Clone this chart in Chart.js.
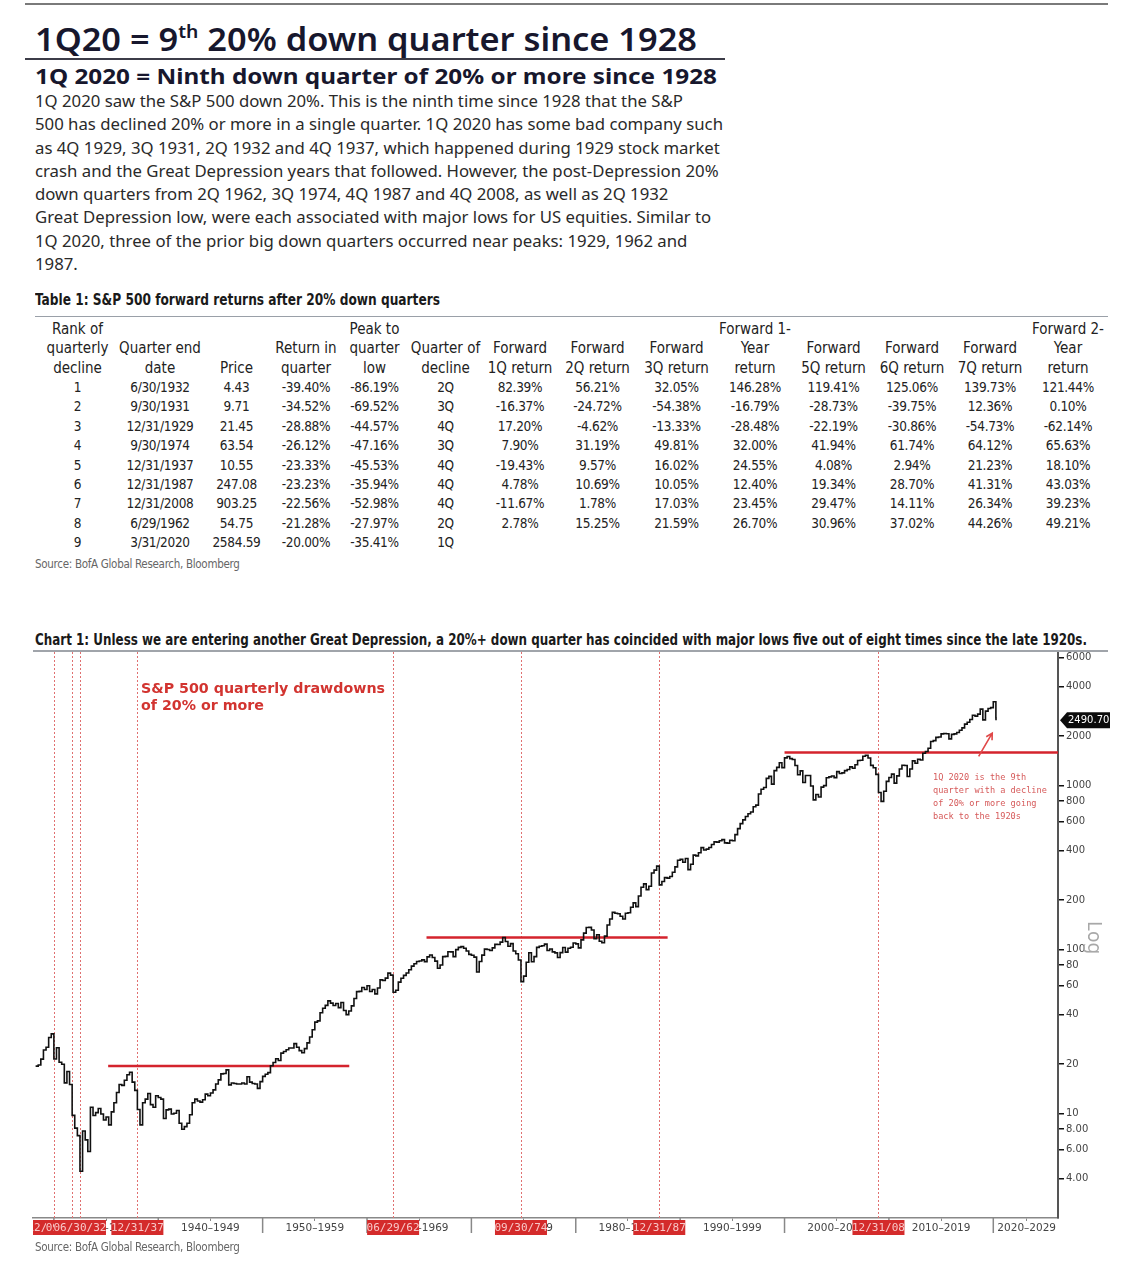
<!DOCTYPE html>
<html>
<head>
<meta charset="utf-8">
<script src="https://cdn.jsdelivr.net/npm/chart.js@4.4.1/dist/chart.umd.min.js"></script>
<style>
  body { margin: 0; background: #fff; width: 1140px; height: 1280px; position: relative; overflow: hidden; font-family: "Noto Sans", sans-serif; }
  .abs { position: absolute; white-space: nowrap; }
  .narrow { font-family: "Liberation Sans Narrow", "DejaVu Sans Condensed", sans-serif; }
  #topline { left: 25px; top: 3px; width: 1083px; height: 2px; background: #7a7a7a; }
  #title { left: 35px; top: 17px; font-size: 32px; font-weight: 600; color: #17172d; }
  #title sup { font-size: 18px; vertical-align: 13px; line-height: 0; }
  #titleline { left: 25px; top: 58px; width: 700px; height: 2px; background: #3c3c48; }
  #subtitle { left: 35px; top: 60px; font-size: 22px; font-weight: 700; color: #17172d; }
  #para { left: 35px; top: 89px; font-size: 17px; line-height: 23.3px; color: #2a2a2a; }
  #t1title { left: 35px; top: 291px; font-size: 15px; font-weight: 700; color: #1a1a1a; }
  #t1line { left: 35px; top: 316px; width: 1073px; height: 1px; background: #9aa0a8; }
  #tbl { position: absolute; left: 36px; top: 320px; border-collapse: collapse; table-layout: fixed; color: #222; }
  #tbl td { padding: 0; text-align: center; white-space: nowrap; }
  #tbl tr.hd td { font-size: 15px; line-height: 19.3px; vertical-align: bottom; }
  #tbl tr.rw td { font-size: 13.5px; line-height: 19.4px; height: 19.4px; letter-spacing: -0.3px; }
  .src { font-size: 11.5px; color: #666; letter-spacing: -0.3px; }
  #c1title { left: 35px; top: 631px; font-size: 15px; font-weight: 700; color: #1a1a1a; }
  #c1line { left: 33px; top: 650px; width: 1075px; height: 2px; background: #a0a4aa; }
  #chartBox { position: absolute; left: 0; top: 652px; width: 1140px; height: 593px; }
  #note1 { left: 141px; top: 680px; font-family: "DejaVu Sans", sans-serif; font-size: 13.5px; font-weight: 700; line-height: 17px; color: #d23430; }
  #note2 { left: 933px; top: 771px; font-family: "DejaVu Sans Mono", monospace; font-size: 8.6px; line-height: 13px; color: #d65a5a; }
  #logtxt { left: 1108px; top: 921px; font-size: 19px; color: #a8a8a8; transform: rotate(90deg); transform-origin: left top; }
</style>
</head>
<body>
<div class="abs" id="topline"></div>
<div class="abs" id="title">1Q20 = 9<sup>th</sup> 20% down quarter since 1928</div>
<div class="abs" id="titleline"></div>
<div class="abs" id="subtitle">1Q 2020 = Ninth down quarter of 20% or more since 1928</div>
<div class="abs" id="para">1Q 2020 saw the S&amp;P 500 down 20%. This is the ninth time since 1928 that the S&amp;P<br>500 has declined 20% or more in a single quarter. 1Q 2020 has some bad company such<br>as 4Q 1929, 3Q 1931, 2Q 1932 and 4Q 1937, which happened during 1929 stock market<br>crash and the Great Depression years that followed. However, the post-Depression 20%<br>down quarters from 2Q 1962, 3Q 1974, 4Q 1987 and 4Q 2008, as well as 2Q 1932<br>Great Depression low, were each associated with major lows for US equities. Similar to<br>1Q 2020, three of the prior big down quarters occurred near peaks: 1929, 1962 and<br>1987.</div>

<div class="abs narrow" id="t1title">Table 1: S&amp;P 500 forward returns after 20% down quarters</div>
<div class="abs" id="t1line"></div>
<table id="tbl" class="narrow"></table>
<div class="abs narrow src" style="left:35px;top:557px">Source: BofA Global Research, Bloomberg</div>

<div class="abs narrow" id="c1title">Chart 1: Unless we are entering another Great Depression, a 20%+ down quarter has coincided with major lows five out of eight times since the late 1920s.</div>
<div class="abs" id="c1line"></div>
<div id="chartBox"><canvas id="chart"></canvas></div>
<div class="abs" id="note1">S&amp;P 500 quarterly drawdowns<br>of 20% or more</div>
<div class="abs" id="note2">1Q 2020 is the 9th<br>quarter with a decline<br>of 20% or more going<br>back to the 1920s</div>
<div class="abs" id="logtxt">Log</div>
<div class="abs narrow src" style="left:35px;top:1240px">Source: BofA Global Research, Bloomberg</div>

<script>
// squeeze/stretch a text block horizontally to the width it has in the original
function fitWidth(id, w) {
  const el = document.getElementById(id);
  const nat = el.getBoundingClientRect().width;
  el.style.transformOrigin = 'left top';
  el.style.transform = 'scaleX(' + (w / nat) + ')';
}
fitWidth('title', 662);
fitWidth('subtitle', 682);
fitWidth('para', 688);
fitWidth('t1title', 405);
fitWidth('c1title', 1052);
fitWidth('note1', 244);

// Table 1
const tableHead = ['Rank of<br>quarterly<br>decline', 'Quarter end<br>date', 'Price', 'Return in<br>quarter',
  'Peak to<br>quarter<br>low', 'Quarter of<br>decline', 'Forward<br>1Q return', 'Forward<br>2Q return',
  'Forward<br>3Q return', 'Forward 1-<br>Year<br>return', 'Forward<br>5Q return', 'Forward<br>6Q return',
  'Forward<br>7Q return', 'Forward 2-<br>Year<br>return'];
const colWidths = [83, 82, 71, 68, 69, 73, 76, 79, 79, 78, 79, 78, 78, 78];
const tableRows = [
  ['1', '6/30/1932', '4.43', '-39.40%', '-86.19%', '2Q', '82.39%', '56.21%', '32.05%', '146.28%', '119.41%', '125.06%', '139.73%', '121.44%'],
  ['2', '9/30/1931', '9.71', '-34.52%', '-69.52%', '3Q', '-16.37%', '-24.72%', '-54.38%', '-16.79%', '-28.73%', '-39.75%', '12.36%', '0.10%'],
  ['3', '12/31/1929', '21.45', '-28.88%', '-44.57%', '4Q', '17.20%', '-4.62%', '-13.33%', '-28.48%', '-22.19%', '-30.86%', '-54.73%', '-62.14%'],
  ['4', '9/30/1974', '63.54', '-26.12%', '-47.16%', '3Q', '7.90%', '31.19%', '49.81%', '32.00%', '41.94%', '61.74%', '64.12%', '65.63%'],
  ['5', '12/31/1937', '10.55', '-23.33%', '-45.53%', '4Q', '-19.43%', '9.57%', '16.02%', '24.55%', '4.08%', '2.94%', '21.23%', '18.10%'],
  ['6', '12/31/1987', '247.08', '-23.23%', '-35.94%', '4Q', '4.78%', '10.69%', '10.05%', '12.40%', '19.34%', '28.70%', '41.31%', '43.03%'],
  ['7', '12/31/2008', '903.25', '-22.56%', '-52.98%', '4Q', '-11.67%', '1.78%', '17.03%', '23.45%', '29.47%', '14.11%', '26.34%', '39.23%'],
  ['8', '6/29/1962', '54.75', '-21.28%', '-27.97%', '2Q', '2.78%', '15.25%', '21.59%', '26.70%', '30.96%', '37.02%', '44.26%', '49.21%'],
  ['9', '3/31/2020', '2584.59', '-20.00%', '-35.41%', '1Q', '', '', '', '', '', '', '', '']
];
const tbl = document.getElementById('tbl');
let html = '<colgroup>' + colWidths.map(w => '<col style="width:' + w + 'px">').join('') + '</colgroup>';
html += '<tr class="hd">' + tableHead.map(h => '<td>' + h + '</td>').join('') + '</tr>';
tableRows.forEach(r => { html += '<tr class="rw">' + r.map(v => '<td>' + v + '</td>').join('') + '</tr>'; });
tbl.innerHTML = html;

// Chart 1 data: S&P 500 quarter-end closes, 1928 Q1 .. 2020 Q1
const startYear = 1928;
const closes = [
  19.4, 19.7, 21.4, 24.35,     25.3, 29.0, 30.5, 21.45,     25.1, 20.5, 19.9, 15.34,
  18.0, 15.0, 9.71, 8.12,      7.31, 4.43, 7.8, 6.89,       5.85, 10.9, 9.7, 10.1,
  10.7, 9.9, 9.1, 9.5,         8.5, 10.2, 11.6, 13.4,       15.0, 14.8, 15.9, 17.2,
  17.8, 15.5, 13.8, 10.55,     8.5, 11.6, 12.2, 13.2,       11.3, 10.9, 12.8, 12.5,
  12.2, 9.3, 10.5, 10.6,       9.9, 10.0, 10.4, 8.7,        8.0, 8.3, 8.7, 9.8,
  11.6, 12.2, 11.9, 11.7,      12.1, 13.1, 12.8, 13.3,      13.9, 15.1, 16.0, 17.4,
  17.5, 18.4, 14.9, 15.3,      15.2, 15.1, 15.1, 15.3,      15.1, 16.7, 15.5, 15.2,
  15.1, 14.2, 15.6, 16.8,      17.3, 17.7, 19.5, 20.4,      21.5, 21.0, 23.3, 23.8,
  24.4, 25.0, 25.0, 26.6,      25.3, 24.1, 23.4, 24.8,      26.9, 29.2, 32.3, 36.0,
  36.6, 41.0, 43.7, 45.5,      48.5, 47.0, 45.4, 46.7,      44.1, 47.4, 42.4, 40.0,
  42.1, 45.2, 50.1, 55.2,      55.4, 58.5, 56.9, 59.9,      55.3, 56.9, 53.5, 58.1,
  65.1, 64.6, 66.7, 71.6,      69.6, 54.75, 56.3, 63.1,     66.6, 69.4, 71.7, 75.0,
  79.0, 81.7, 84.2, 84.8,      86.2, 84.1, 90.0, 92.4,      89.2, 84.7, 76.6, 80.3,
  90.2, 90.6, 96.7, 96.5,      90.2, 99.6, 102.7, 103.9,    101.5, 97.7, 93.1, 92.1,
  89.6, 72.7, 84.3, 92.2,      100.3, 99.7, 98.3, 102.1,    107.2, 107.1, 110.6, 118.1,
  111.5, 104.3, 108.4, 97.6,   94.0, 86.0, 63.54, 68.6,     83.4, 95.2, 83.9, 90.2,
  102.8, 104.3, 105.2, 107.5,  98.4, 100.5, 96.5, 95.1,     89.2, 95.5, 102.5, 96.1,
  101.6, 102.9, 109.3, 107.9,  102.1, 114.2, 125.5, 135.8,  136.0, 131.2, 116.2, 122.6,
  112.0, 109.6, 120.4, 140.6,  153.0, 168.1, 166.1, 164.9,  159.2, 153.2, 166.1, 167.2,
  180.7, 191.9, 182.1, 211.3,  238.9, 250.8, 231.3, 242.2,  291.7, 304.0, 321.8, 247.08,
  258.9, 273.5, 271.9, 277.7,  294.9, 318.0, 349.2, 353.4,  339.9, 358.0, 306.1, 330.2,
  375.2, 371.2, 387.9, 417.1,  403.7, 408.1, 417.8, 435.7,  451.7, 450.5, 458.9, 466.5,
  445.8, 444.3, 462.7, 459.3,  500.7, 544.8, 584.4, 615.9,  645.5, 670.6, 687.3, 740.7,
  757.1, 885.1, 947.3, 970.4,  1101.8, 1133.8, 1017.0, 1229.2, 1286.4, 1372.7, 1282.7, 1469.3,
  1498.6, 1454.6, 1436.5, 1320.3, 1160.3, 1224.4, 1040.9, 1148.1, 1147.4, 989.8, 815.3, 879.8,
  848.2, 974.5, 996.0, 1111.9, 1126.2, 1140.8, 1114.6, 1211.9, 1180.6, 1191.3, 1228.8, 1248.3,
  1294.8, 1270.2, 1335.9, 1418.3, 1420.9, 1503.4, 1526.8, 1468.4, 1322.7, 1280.0, 1166.4, 903.25,
  797.9, 919.3, 1057.1, 1115.1, 1169.4, 1030.7, 1141.2, 1257.6, 1325.8, 1320.6, 1131.4, 1257.6,
  1408.5, 1362.2, 1440.7, 1426.2, 1569.2, 1606.3, 1681.6, 1848.4, 1872.3, 1960.2, 1972.3, 2058.9,
  2067.9, 2063.1, 1920.0, 2043.9, 2059.7, 2098.9, 2168.3, 2238.8, 2362.7, 2423.4, 2519.4, 2673.6,
  2640.9, 2718.4, 2914.0, 2506.9, 2834.4, 2941.8, 2976.7, 3230.8, 2584.59
];
const lastDate = 2020.26;
const lastPrice = 2490.70;

// quarters with a 20%+ decline (quarter-end as year fraction) and their labels
const drawdownDates = [1930.0, 1931.75, 1932.5, 1938.0, 1962.5, 1974.75, 1988.0, 2009.0];
const drawdownLabels = ['12/31/29', '09/30/31', '06/30/32', '12/31/37', '06/29/62', '09/30/74', '12/31/87', '12/31/08'];

// prior-peak levels (red horizontal lines)
const levelStart = [1935.2, 1965.7, 2000.0];
const levelEnd = [1958.3, 1988.8, 2026.2];
const levelValue = [19.4, 118, 1585];

const decades = [1930, 1940, 1950, 1960, 1970, 1980, 1990, 2000, 2010, 2020];
const yTicks = [6000, 4000, 2000, 1000, 800, 600, 400, 200, 100, 80, 60, 40, 20, 10, 8, 6, 4];

const xMin = 1928, xMax = 2026.2;

const pricePoints = closes.map((v, i) => ({ x: startYear + (i + 1) / 4, y: v }));
pricePoints.push({ x: lastDate, y: lastPrice });

const datasets = [{
  data: pricePoints,
  borderColor: '#111',
  borderWidth: 1.6,
  pointRadius: 0,
  stepped: true,
  order: 0
}];
levelValue.forEach((v, i) => {
  datasets.push({
    data: [{ x: levelStart[i], y: v }, { x: levelEnd[i], y: v }],
    borderColor: '#d4232d',
    borderWidth: 2.5,
    pointRadius: 0,
    order: 1
  });
});

const overlay = {
  id: 'overlay',
  beforeDatasetsDraw(chart) {
    const { ctx, chartArea: a, scales: { x } } = chart;
    ctx.save();
    ctx.strokeStyle = '#e07070';
    ctx.lineWidth = 1;
    ctx.setLineDash([2, 2]);
    drawdownDates.forEach(d => {
      const px = Math.round(x.getPixelForValue(d)) + 0.5;
      ctx.beginPath();
      ctx.moveTo(px, a.top);
      ctx.lineTo(px, a.bottom);
      ctx.stroke();
    });
    ctx.restore();
  },
  afterDraw(chart) {
    const { ctx, chartArea: a, scales: { x, y } } = chart;
    ctx.save();
    // decade boundary ticks
    ctx.strokeStyle = '#888';
    ctx.lineWidth = 1.5;
    decades.forEach(d => {
      const px = x.getPixelForValue(d);
      ctx.beginPath();
      ctx.moveTo(px, a.bottom);
      ctx.lineTo(px, a.bottom + 15);
      ctx.stroke();
    });
    // red date boxes
    ctx.beginPath();
    ctx.rect(a.left, a.bottom, a.right - a.left, 40);
    ctx.clip();
    ctx.font = '11px "DejaVu Sans Mono", monospace';
    ctx.textAlign = 'center';
    ctx.textBaseline = 'middle';
    drawdownDates.forEach((d, i) => {
      const px = x.getPixelForValue(d);
      ctx.fillStyle = '#d42b2b';
      ctx.fillRect(px - 26, a.bottom + 2, 52, 15);
      ctx.fillStyle = '#f8c8c8';
      ctx.fillText(drawdownLabels[i], px, a.bottom + 10);
    });
    ctx.restore();

    // last price box on the axis
    ctx.save();
    const ly = y.getPixelForValue(lastPrice);
    const ax = a.right + 2;
    ctx.fillStyle = '#0c0c0c';
    ctx.beginPath();
    ctx.moveTo(ax, ly);
    ctx.lineTo(ax + 7, ly - 8);
    ctx.lineTo(ax + 50, ly - 8);
    ctx.lineTo(ax + 50, ly + 8);
    ctx.lineTo(ax + 7, ly + 8);
    ctx.closePath();
    ctx.fill();
    ctx.fillStyle = '#fff';
    ctx.font = '10px "DejaVu Sans", sans-serif';
    ctx.textBaseline = 'middle';
    ctx.fillText(lastPrice.toFixed(2), ax + 8, ly + 0.5);

    // arrow to the 1Q 2020 drop
    const x0 = x.getPixelForValue(2018.6), y0 = y.getPixelForValue(1500);
    const x1 = x.getPixelForValue(2019.9), y1 = y.getPixelForValue(2080);
    ctx.strokeStyle = '#e04848';
    ctx.lineWidth = 1.6;
    ctx.beginPath();
    ctx.moveTo(x0, y0);
    ctx.lineTo(x1, y1);
    const ang = Math.atan2(y1 - y0, x1 - x0);
    ctx.moveTo(x1 - 7 * Math.cos(ang - 0.5), y1 - 7 * Math.sin(ang - 0.5));
    ctx.lineTo(x1, y1);
    ctx.lineTo(x1 - 7 * Math.cos(ang + 0.5), y1 - 7 * Math.sin(ang + 0.5));
    ctx.stroke();
    ctx.restore();
  }
};

new Chart(document.getElementById('chart'), {
  type: 'line',
  data: { datasets: datasets },
  plugins: [overlay],
  options: {
    responsive: true,
    maintainAspectRatio: false,
    animation: false,
    layout: { padding: { left: 33, right: 32, top: 0, bottom: 3 } },
    plugins: { legend: { display: false }, tooltip: { enabled: false } },
    scales: {
      x: {
        type: 'linear',
        min: xMin,
        max: xMax,
        afterBuildTicks: s => {
          s.ticks = decades.map(d => ({ value: Math.min(d + 5, xMax - 3) }));
        },
        afterFit: s => { s.height = 24; s.paddingLeft = 0; s.paddingRight = 0; },
        ticks: {
          autoSkip: false,
          maxRotation: 0,
          padding: 1,
          color: '#444',
          font: { family: 'DejaVu Sans', size: 10.5 },
          callback: function (v, i) { const d = decades[i]; return d + '\u2013' + (d + 9); }
        },
        grid: { drawOnChartArea: false, drawTicks: true, tickLength: 3, color: '#888' },
        border: { display: true, color: '#888', width: 1.5 }
      },
      y: {
        type: 'logarithmic',
        position: 'right',
        min: 2.3,
        max: 6500,
        afterBuildTicks: s => { s.ticks = yTicks.map(v => ({ value: v })); },
        afterFit: s => { s.width = 50; s.paddingTop = 0; s.paddingBottom = 0; },
        ticks: {
          autoSkip: false,
          padding: 2,
          color: '#444',
          font: { family: 'DejaVu Sans', size: 10 },
          callback: v => (v >= 10 ? String(v) : v.toFixed(2))
        },
        grid: { drawOnChartArea: false, drawTicks: true, tickLength: 6, color: '#111', lineWidth: 1.5 },
        border: { display: true, color: '#555', width: 2 }
      }
    }
  }
});
</script>
</body>
</html>
